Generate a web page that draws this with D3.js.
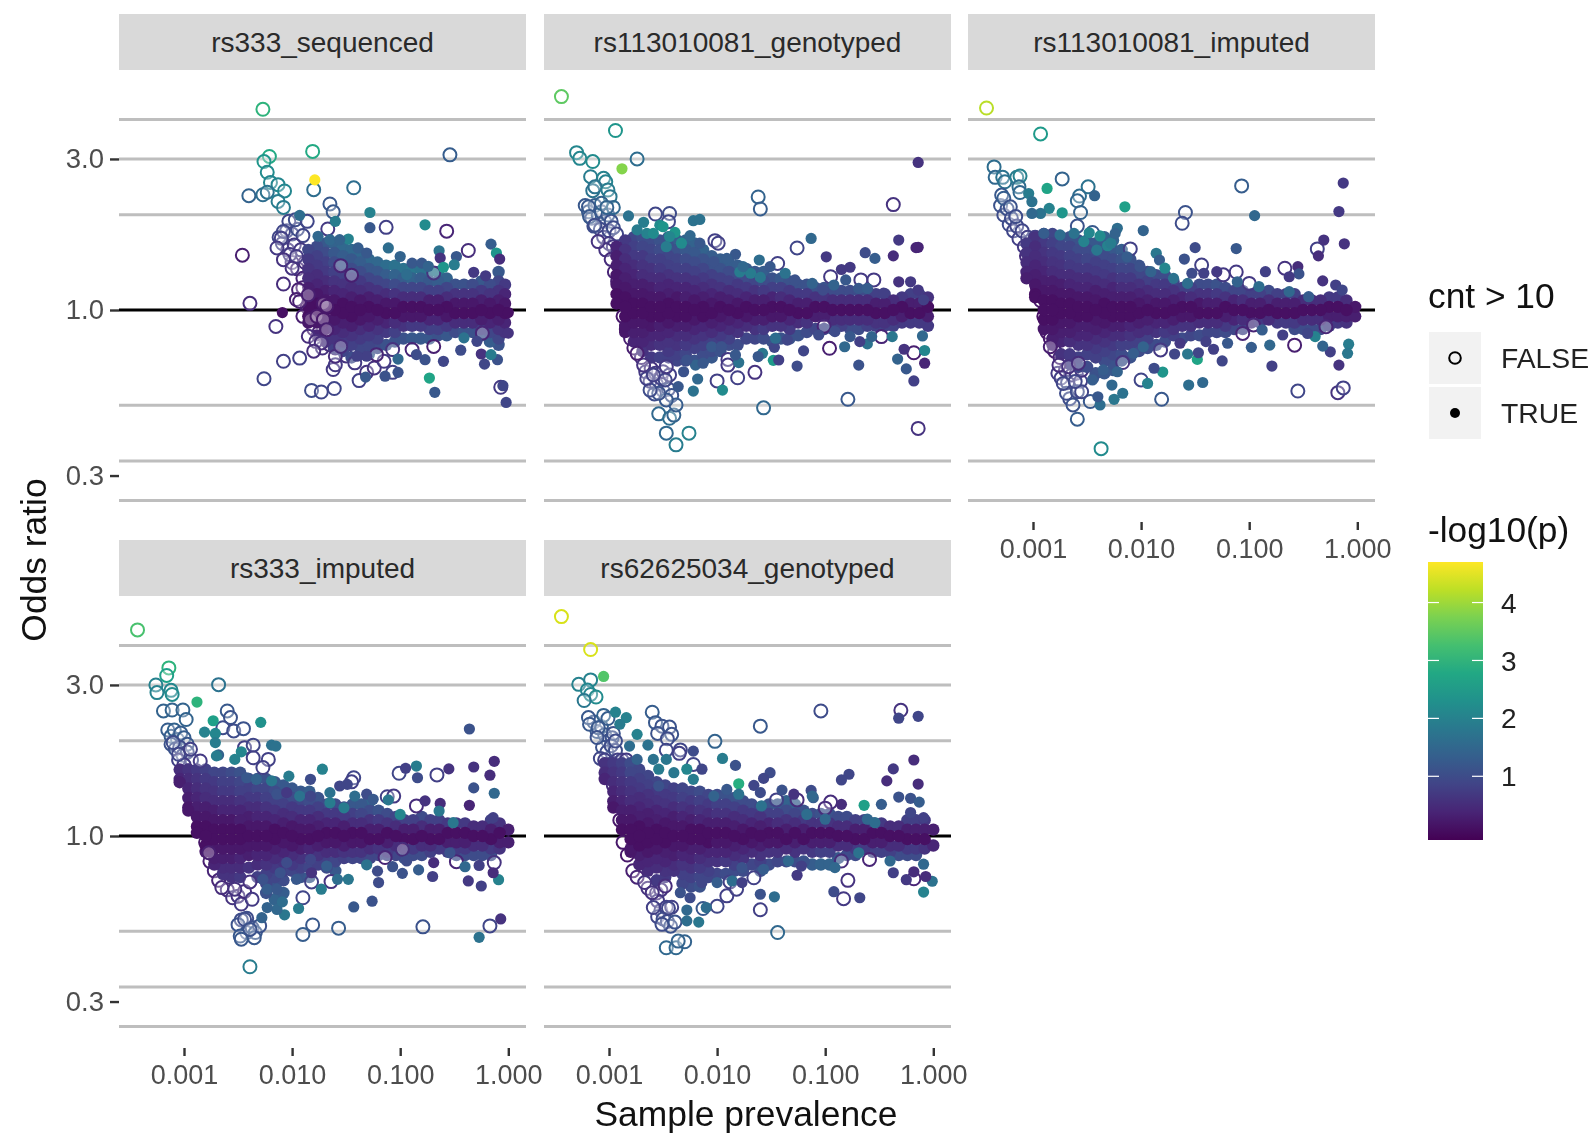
<!DOCTYPE html>
<html><head><meta charset="utf-8"><script src="https://cdn.jsdelivr.net/npm/d3@7"></script>
<style>html,body{margin:0;background:#fff}svg{display:block;font-family:"Liberation Sans",Arial,sans-serif;filter:blur(.45px)}</style></head><body>
<svg id="c" width="1594" height="1133"></svg>
<script>
const panelNames=["rs333_sequenced","rs113010081_genotyped","rs113010081_imputed","rs333_imputed","rs62625034_genotyped"];
const gridOR=[4,3,2,.5,1/3,.25];
const xTicks=[.001,.01,.1,1];
const yTicks=[3,1,.3];
// Values. Outlier rows: [log10(prevalence), log10(OR)*1000, -log10(p)*10]
// Core columns: [log10(prevalence)*100, then pairs log10(OR)*100, -log10(p)*10 ...]
const seqOpen=[[-2.27,634,30],[-2.21,485,28],[-2.26,469,24],[-1.81,501,28],[-.54,490,13],[-2.23,435,22],[-2.2,403,21],[-2.13,396,21],[-2.07,376,21],[-2.4,361,14],[-2.27,364,16],[-2.23,372,17],[-2.13,343,19],[-2.08,324,19],[-1.8,380,16],[-1.43,386,16],[-1.65,335,12],[-1.62,310,12],[-1.13,261,8],[-.57,249,4],[-.37,188,5],[-2.46,173,3],[-2.39,21,5],[-2.15,-52,6],[-2.08,-162,8],[-1.93,-152,8],[-2.26,-217,9],[-1.82,-254,10],[-1.73,-259,9],[-1.61,-248,9],[-1.38,-223,8],[-1.31,-197,6],[-1.24,-183,6],[-1.62,-188,7],[-1.6,-173,7],[-1.07,-197,8],[-.07,-244,7],[-.69,-115,3],[-.24,-73,4],[-.69,117,6],[-1.15,-162,7],[-.89,-125,4],
[-2.03,280,9],[-1.97,285,10],[-1.86,280,9],[-1.67,256,7],[-2.08,248,9],[-2.1,227,8],[-2.14,196,7],[-2.02,175,7],[-2.08,159,6],[-1.96,169,7],[-2,132,6],[-2.08,82,5],[-1.94,64,3],[-1.96,33,3],[-1.93,27,3],[-1.85,48,3],[-1.71,20,2],[-1.83,-30,2],[-1.77,-20,2],[-1.68,12,2],[-1.71,-30,2],[-1.85,-83,5],[-1.78,-99,5],[-1.68,-62,3],[-1.73,-104,5],[-1.8,-130,5],[-1.6,-146,5],[-1.55,-115,5],[-1.42,-167,7],[-1.22,-141,4],[-1.07,-125,6],[-1.55,140,4],[-1.45,110,3]];
const seqFilled=[[-1.79,411,47],[-1.28,308,20],[-1.28,260,12],[-.77,269,22],[-1.6,280,19],[-1.93,299,16],[-1.48,224,20],[-.64,187,17],[-1.11,196,16],[-.16,208,13],[-.11,180,24],[-.48,169,12],[-.63,164,6],[-.08,161,5],[-.6,135,24],[-.5,143,19],[-.32,119,7],[-.21,108,7],[-2.09,-8,1],[0,-8,1],[0,-73,6],[-.6,-162,9],[-.44,-127,10],[-.25,-139,6],[-.22,-171,9],[-.1,-157,11],[-.16,-141,19],[-.73,-215,27],[-.68,-260,12],[-.05,-239,9],[-.02,-292,9],[-1.02,-155,15],[-.77,-157,11],[-.85,-141,10],[-1.14,-209,11],[-1.02,-197,11],[-1.32,-212,12],[-1.76,233,15],[-1.65,222,15],[-1.56,222,14],[-1.39,196,13],[-1.31,180,12],[-1,169,14],[-.89,148,12],[-.8,148,12],[-.94,112,16],[-.74,138,14],[-.41,-88,17],[-.29,-99,9],[-1.31,-146,8],[-1.4,-146,8]];
const seqCore=[[-185,19,9,16,7,13,6,10,5,7,3,4,2,1,1,-2,1,-4,2],[-177,20,10,17,8,14,7,11,5,8,4,5,2,2,1,-1,1,-4,2,-8,4],[-169,21,12,18,10,15,8,12,7,9,5,6,3,3,2,0,1,-3,2,-6,3,-10,6],[-161,21,14,18,12,15,10,12,8,9,6,6,4,3,2,0,1,-3,2,-6,4,-9,6,-12,8],[-153,20,15,17,13,14,11,11,8,8,6,5,4,2,1,-1,1,-4,3,-7,5,-10,7,-13,9],[-145,19,15,16,12,13,10,10,8,7,5,4,3,1,1,-2,1,-5,3,-8,6,-11,8,-15,10],[-137,18,15,15,13,12,10,9,7,6,5,3,2,0,1,-3,2,-6,5,-9,7,-12,9,-14,10],[-129,16,15,13,12,10,9,7,6,4,3,1,1,-2,2,-5,4,-8,7,-11,9,-14,12],[-121,15,15,12,12,9,9,6,6,3,3,0,1,-3,3,-6,6,-9,8,-12,10],[-113,14,16,11,13,8,9,5,5,2,2,-1,1,-4,4,-7,7,-11,11],[-105,14,17,11,14,8,10,5,6,2,2,-1,1,-4,5,-7,8,-10,11],[-97,13,17,10,13,7,9,4,5,1,1,-2,2,-5,6,-9,11],[-89,13,18,10,14,7,9,4,5,1,1,-2,2,-5,7,-9,12],[-81,13,17,10,13,7,9,4,5,1,1,-2,2,-5,7,-9,12],[-73,12,17,9,12,6,8,3,3,0,1,-3,4,-6,8,-9,12],[-65,12,18,9,13,6,8,3,3,0,1,-3,4,-6,8,-8,11],[-57,10,14,7,9,4,5,1,1,-2,2,-5,7,-8,12],[-49,8,11,5,6,2,2,-1,1,-4,5,-7,10],[-41,8,11,5,6,2,2,-1,1,-4,5,-7,11],[-33,8,10,5,6,2,2,-1,1,-4,5,-7,11],[-25,9,12,6,7,3,3,0,1,-3,3,-6,8,-8,11],[-17,8,10,5,6,2,2,-1,1,-4,4,-7,9,-10,13],[-9,12,12,9,9,6,6,3,3,0,1,-3,3,-6,6,-9,9,-11,11],[-3,8,7,5,4,2,2,-1,1,-4,4,-7,6]];
const seqCluster=[[-2.12,230,9],[-2.09,210,8],[-2.05,250,9],[-2,240,9],[-1.95,255,10],[-1.9,235,9],[-2.04,190,7],[-1.98,205,7],[-1.92,190,7],[-2,150,6],[-1.95,130,5],[-1.9,100,4],[-1.88,150,5],[-1.83,120,4],[-1.9,70,3],[-1.86,10,2],[-1.9,-20,3],[-1.8,-60,3],[-1.75,-70,4],[-1.72,-120,6],[-1.65,-110,5],[-1.6,-120,6],[-1.5,-145,6]];

const g2Open=[[-3.44,674,35],[-2.94,567,24],[-3.3,497,21],[-3.27,479,21],[-3.15,469,22],[-2.74,477,16],[-3.17,421,19],[-3.05,416,20],[-3.03,405,20],[-3.15,377,17],[-3.13,389,17],[-3.01,379,19],[-2.99,358,18],[-3.07,337,14],[-2.96,324,15],[-3.19,326,12],[-3.02,324,14],[-3.18,295,12],[-3.13,268,10],[-3.1,216,6],[-2.57,303,9],[-2.44,305,10],[-2.45,279,9],[-1.62,357,14],[-1.6,319,13],[-.37,333,6],[-2.02,219,8],[-1.99,211,8],[-1.26,196,9],[-1.44,147,8],[-.95,105,7],[-.67,95,7],[-.55,95,7],[-1.01,-51,4],[-.48,-84,4],[-.96,-121,3],[-.18,-135,3],[-1.9,-156,7],[-1.9,-174,7],[-1.81,-214,8],[-1.65,-197,6],[-2,-224,8],[-1.57,-309,15],[-.79,-282,12],[-.14,-374,6],[-2.26,-389,20],[-2.38,-426,19],[-2.47,-389,15],[-2.54,-328,15],[-2.44,-342,16],[-2.4,-332,14],[-2.38,-300,13],[-2.47,-284,12],[-2.54,-263,11],[-2.62,-253,10],[-2.48,-221,9],[-2.65,-216,8],[-2.68,-174,6],[-2.59,-205,8],[-2.47,-179,7],[-2.74,-137,3]];
const g2Filled=[[-2.88,446,38],[-2.82,297,17],[-2.68,277,19],[-2.53,268,22],[-2.39,245,24],[-2.22,282,17],[-2.16,286,17],[-.14,466,6],[-1.13,226,15],[-.32,221,7],[-.16,197,4],[-.14,198,4],[-.99,168,7],[-.37,171,5],[-.63,181,10],[-.54,163,13],[-.85,128,7],[-.77,135,7],[-.81,95,12],[-.32,89,6],[-.21,89,7],[-1.61,158,16],[-1.79,120,19],[-1.69,116,19],[-1.6,103,18],[-1.83,176,12],[-2.03,153,11],[-.08,-128,21],[-.08,-168,4],[-.18,-224,8],[-.25,-186,12],[-.33,-155,14],[-.69,-174,11],[-.82,-116,15],[-1.26,-177,10],[-1.2,-129,9],[-1.48,-159,25],[-1.43,-158,8],[-1.58,-137,18],[-1.62,-147,12],[-1.47,-118,9],[-1.95,-253,22],[-2.22,-256,17],[-2.18,-218,15],[-2.36,-242,12],[-2.31,-195,11],[-1.8,-166,17],[-1.83,-142,12],[-.27,-124,6],[-.61,-107,17],[-.38,-84,18],[-.1,-82,15],[-1.91,163,13],[-1.76,137,15],[-1.51,137,12],[-1.37,116,17],[-1.28,95,11],[-1.12,84,14],[-1.02,63,10],[-.92,79,14],[-.69,68,12],[-.61,68,13],[-.46,53,8],[-.14,63,7],[-.09,32,8],[-1.46,-89,16],[-1.35,-95,9],[-1.06,-79,10],[-.91,-68,10],[-.77,-84,12],[-.68,-100,8],[-.57,-84,14],[-2.74,253,19],[-2.65,242,20],[-2.59,242,22],[-2.5,263,24],[-2.44,232,21],[-2.33,211,22],[-2.25,235,15],[-2.16,211,12],[-2.47,200,19],[-2.2,-174,14],[-2.13,-168,12],[-2.28,-158,11],[-2.05,-116,12],[-1.96,-116,11]];
const g2Cluster=[[-3.22,330,12],[-3.19,310,12],[-3.16,290,11],[-3.13,330,13],[-3.1,300,12],[-3.07,310,12],[-3.04,280,11],[-3.01,300,12],[-2.98,280,11],[-3.14,265,10],[-3.08,255,10],[-3.05,230,8],[-3,250,9],[-2.96,260,10],[-2.93,240,9],[-3,210,7],[-2.96,200,7],[-2.93,180,6],[-3.03,190,6],[-2.98,160,5],[-2.95,120,4],[-2.92,90,3],[-2.87,-20,2],[-2.84,-60,2],[-2.8,-90,3],[-2.77,-120,3],[-2.7,-150,5],[-2.66,-195,7],[-2.61,-185,6],[-2.62,-225,8],[-2.57,-200,7],[-2.56,-235,8],[-2.52,-215,8],[-2.5,-255,10],[-2.45,-250,10],[-2.42,-270,11],[-2.58,-265,10],[-2.5,-195,7],[-2.44,-205,8]];
const g2Core=[[-293,20,4,17,3,14,3,11,2,8,2,5,1,2,1],[-285,22,7,19,6,16,5,13,4,10,3,7,2,4,1,1,1,-2,1,-5,2,-7,2],[-277,23,9,20,8,17,7,14,5,11,4,8,3,5,2,2,1,-1,1,-4,2,-7,3,-10,4],[-269,23,10,20,9,17,7,14,6,11,5,8,3,5,2,2,1,-1,1,-4,2,-7,3,-10,4,-13,6],[-261,22,10,19,9,16,8,13,6,10,5,7,3,4,2,1,1,-2,1,-5,2,-8,4,-11,5,-15,7],[-253,22,11,19,10,16,8,13,7,10,5,7,4,4,2,1,1,-2,1,-5,3,-8,4,-11,6,-15,8],[-245,23,13,20,11,17,9,14,8,11,6,8,4,5,3,2,1,-1,1,-4,2,-7,4,-10,6,-13,7,-15,8],[-237,22,13,19,11,16,9,13,8,10,6,7,4,4,2,1,1,-2,1,-5,3,-8,5,-11,6,-14,8,-16,9],[-229,22,14,19,12,16,10,13,8,10,6,7,4,4,3,1,1,-2,1,-5,3,-8,5,-11,7,-14,9,-16,10],[-221,21,14,18,12,15,10,12,8,9,6,6,4,3,2,0,1,-3,2,-6,4,-9,6,-12,8,-16,11],[-213,19,14,16,11,13,9,10,7,7,5,4,3,1,1,-2,1,-5,4,-8,6,-11,8,-14,10,-16,11],[-205,17,13,14,11,11,8,8,6,5,4,2,2,-1,1,-4,3,-7,5,-10,8,-13,10,-15,12],[-197,16,13,13,11,10,8,7,6,4,3,1,1,-2,2,-5,4,-8,7,-11,9,-13,11],[-189,15,13,12,10,9,8,6,5,3,3,0,1,-3,3,-6,5,-9,8,-11,10],[-181,14,13,11,10,8,7,5,5,2,2,-1,1,-4,4,-7,6,-11,10],[-173,13,13,10,10,7,7,4,4,1,1,-2,2,-5,5,-9,9],[-165,12,12,9,9,6,6,3,3,0,1,-3,3,-6,6,-9,9],[-157,12,13,9,10,6,7,3,3,0,1,-3,3,-6,7,-9,10],[-149,10,11,7,8,4,4,1,1,-2,2,-5,6,-10,11],[-141,10,12,7,8,4,5,1,1,-2,2,-5,6,-9,11],[-133,9,11,6,7,3,4,0,1,-3,4,-6,7,-9,11],[-125,8,11,5,7,2,3,-1,1,-4,5,-8,11],[-117,8,11,5,7,2,3,-1,1,-4,6,-7,10],[-109,7,11,4,6,1,1,-2,3,-6,9],[-101,7,11,4,6,1,1,-2,3,-6,9],[-93,6,10,3,5,0,1,-3,5,-6,10],[-85,6,10,3,5,0,1,-3,5,-5,8],[-77,6,10,3,5,0,1,-3,5,-6,10],[-69,6,10,3,5,0,1,-3,5,-6,10],[-61,6,10,3,5,0,1,-3,5,-5,8],[-53,5,8,2,3,-1,1,-4,6,-5,8],[-45,5,8,2,3,-1,1,-4,6,-5,8],[-37,3,5,0,1,-3,5,-5,8],[-29,4,7,1,1,-2,3,-4,7],[-21,5,8,2,3,-1,1,-4,7],[-13,5,8,2,3,-1,1,-4,7],[-5,4,6,1,1,-2,3,-5,7]];

const g3Open=[[-3.43,638,42],[-2.93,556,25],[-3.36,452,16],[-3.35,419,15],[-3.28,419,17],[-3.26,405,17],[-3.15,419,19],[-3.12,423,20],[-2.73,414,14],[-3.13,389,16],[-3.12,371,15],[-3.29,363,12],[-3.27,353,13],[-2.49,389,17],[-2.57,360,16],[-2.59,345,15],[-2.56,308,14],[-2.59,265,11],[-3.21,326,11],[-3.16,295,10],[-2.45,245,12],[-2.1,193,8],[-1.07,392,13],[-1.59,308,11],[-1.62,274,10],[-1.44,142,8],[-1.24,111,7],[-1.12,120,7],[-1,84,7],[-.67,132,6],[-.37,193,8],[-.96,-47,4],[-1.06,-74,4],[-.29,-53,4],[-.58,-111,3],[-1.82,-126,7],[-2.17,-166,6],[-2,-221,9],[-1.81,-282,12],[-.55,-256,9],[-.18,-261,6],[-.13,-246,8],[-2.37,-438,22],[-2.59,-345,13],[-2.63,-300,11],[-2.47,-289,12],[-2.69,-263,10],[-2.59,-258,10],[-2.55,-258,9],[-2.72,-232,9],[-2.61,-226,9],[-2.76,-174,5],[-2.67,-179,6],[-2.58,-168,5],[-2.84,-116,3]];
const g3Filled=[[-2.87,384,27],[-3.04,368,19],[-3.01,342,17],[-2.85,321,20],[-2.73,307,24],[-2.43,361,14],[-2.15,326,26],[-2.22,258,16],[-1.98,251,14],[-2.48,244,21],[-2.38,234,22],[-2.31,203,20],[-1.5,197,10],[-1.12,194,12],[-.95,298,15],[-.13,401,7],[-.17,311,7],[-.12,209,6],[-.31,221,6],[-.36,171,5],[-1.6,161,11],[-1.86,179,18],[-1.83,158,13],[-1.78,132,21],[-.85,121,8],[-.55,137,5],[-.32,92,6],[-.54,114,11],[-.63,105,7],[-.2,79,8],[-.08,-108,19],[-.09,-137,18],[-.17,-174,6],[-.25,-132,8],[-.32,-114,14],[-.39,-84,20],[-.79,-177,8],[-.81,-111,15],[-.98,-118,13],[-1.25,-161,9],[-1.33,-124,8],[-1.48,-156,27],[-1.57,-139,18],[-1.47,-135,9],[-1.69,-139,9],[-1.43,-229,15],[-1.56,-237,16],[-1.8,-196,24],[-1.88,-184,10],[-1.94,-232,20],[-2.17,-263,17],[-2.25,-282,18],[-2.27,-237,15],[-2.38,-300,16],[-2.4,-274,12],[-2.44,-216,11],[-2.93,305,17],[-3.01,305,15],[-2.9,242,13],[-2.75,237,16],[-2.62,242,17],[-2.53,216,20],[-2.41,189,18],[-2.28,211,19],[-2.24,242,14],[-2.13,168,13],[-2.01,137,11],[-1.91,121,14],[-1.7,100,17],[-1.57,84,16],[-1.53,116,10],[-1.42,116,8],[-1.3,121,7],[-1.11,89,14],[-.91,74,16],[-.63,58,15],[-.45,42,13],[-.14,63,9],[-.46,-74,9],[-.69,-79,8],[-.88,-63,13],[-1.2,-105,12],[-1.4,-100,8],[-1.64,-105,7],[-1.98,-116,14],[-2.07,-137,13],[-2.22,-195,14],[-2.35,-189,13],[-2.45,-221,13]];
const g3Cluster=[[-3.3,330,11],[-3.27,300,10],[-3.24,320,11],[-3.22,270,10],[-3.2,290,10],[-3.18,250,9],[-3.15,265,9],[-3.13,225,8],[-3.1,250,9],[-3.08,200,7],[-3.05,230,8],[-3.02,190,6],[-3.06,170,5],[-2.98,230,8],[-2.95,220,8],[-2.95,150,4],[-3,120,3],[-2.96,70,2],[-2.93,30,2],[-2.9,-20,1],[-2.87,-70,2],[-2.84,-90,2],[-2.8,-130,3],[-2.75,-150,4],[-2.77,-200,7],[-2.74,-215,8],[-2.7,-190,6],[-2.68,-230,9],[-2.64,-205,7],[-2.6,-200,7],[-2.56,-225,8],[-2.66,-280,10],[-2.55,-190,6]];
const g3Core=[[-306,21,7,18,6,15,5,12,4,10,3],[-298,23,6,20,5,17,5,14,4,11,3,8,2,5,1,4,1],[-290,24,8,21,7,18,6,15,5,12,4,9,3,6,2,3,1,0,1,-3,1,-6,2],[-282,24,9,21,8,18,7,15,6,12,5,9,3,6,2,3,1,0,1,-3,1,-6,2,-9,3,-11,4],[-274,23,10,20,9,17,7,14,6,11,5,8,3,5,2,2,1,-1,1,-4,2,-7,3,-10,4,-14,6],[-266,23,11,20,9,17,8,14,7,11,5,8,4,5,2,2,1,-1,1,-4,2,-7,3,-10,5,-14,7,-17,8],[-258,22,11,19,10,16,8,13,7,10,5,7,4,4,2,1,1,-2,1,-5,3,-8,4,-11,6,-15,8,-18,9],[-250,22,12,19,10,16,9,13,7,10,5,7,4,4,2,1,1,-2,1,-5,3,-8,4,-11,6,-14,8,-18,10],[-242,21,12,18,10,15,8,12,7,9,5,6,3,3,2,0,1,-3,2,-6,3,-9,5,-12,7,-15,8,-20,11],[-234,23,14,20,12,17,10,14,8,11,7,8,5,5,3,2,1,-1,1,-4,2,-7,4,-10,6,-13,8,-16,10,-20,12],[-226,22,14,19,12,16,10,13,8,10,6,7,4,4,3,1,1,-2,1,-5,3,-8,5,-11,7,-14,9,-17,11,-19,12],[-218,19,13,16,11,13,9,10,7,7,5,4,3,1,1,-2,1,-5,3,-8,5,-11,8,-14,10,-16,11],[-210,16,11,13,9,10,7,7,5,4,3,1,1,-2,1,-5,4,-8,6,-11,8,-15,11],[-202,14,11,11,9,8,6,5,4,2,2,-1,1,-4,3,-7,5,-10,8,-13,10],[-194,12,10,9,8,6,5,3,3,0,1,-3,3,-6,5,-9,8,-12,10],[-186,11,10,8,7,5,5,2,2,-1,1,-4,4,-7,6,-11,10],[-178,11,10,8,7,5,5,2,2,-1,1,-4,4,-7,7,-10,10],[-170,9,9,6,6,3,3,0,1,-3,3,-6,6,-8,8],[-162,7,8,4,4,1,1,-2,2,-5,6,-9,10],[-154,7,8,4,5,1,1,-2,2,-5,6,-8,9],[-146,8,10,5,6,2,2,-1,1,-4,5,-8,10],[-138,8,10,5,6,2,3,-1,1,-4,5,-7,9],[-130,8,11,5,7,2,3,-1,1,-4,5,-7,9],[-122,7,10,4,6,1,1,-2,3,-5,7,-7,10],[-114,6,9,3,4,0,1,-3,4,-6,9],[-106,6,9,3,5,0,1,-3,5,-6,9],[-98,5,8,2,3,-1,1,-4,6],[-90,5,8,2,3,-1,1,-4,7],[-82,6,10,3,5,0,1,-3,5],[-74,5,8,2,3,-1,1,-4,7],[-66,5,8,2,3,-1,1,-4,7],[-58,5,8,2,3,-1,1,-4,7,-6,10],[-50,3,5,0,1,-3,5,-6,10],[-42,3,5,0,1,-3,5,-6,10],[-34,3,5,0,1,-3,5,-6,10],[-26,4,7,1,1,-2,3,-5,8],[-18,4,7,1,1,-2,3,-4,7],[-10,3,5,0,1,-2,3,-4,6],[-2,1,2,-2,3]];

const i4Open=[[-3.43,651,33],[-3.14,531,30],[-3.16,507,26],[-3.26,477,20],[-3.25,453,20],[-3.12,460,21],[-3.11,447,22],[-2.68,478,17],[-3.19,395,14],[-3.11,398,14],[-3.01,398,14],[-2.98,368,14],[-2.6,395,12],[-2.57,374,11],[-2.64,342,10],[-2.54,332,10],[-2.45,339,11],[-3.1,295,10],[-3.05,258,9],[-2.94,274,8],[-2.85,237,7],[-2.44,279,8],[-2.36,287,9],[-2.36,247,8],[-2.22,242,8],[-2.27,216,8],[-1.43,184,9],[-1.45,171,8],[-1.01,198,9],[-.66,193,8],[-1.12,124,8],[-1.06,126,7],[-.85,95,5],[-.98,-42,5],[-.48,-81,4],[-.13,-84,6],[-1.14,-68,4],[-2.77,-53,3],[-2.65,-163,5],[-2.39,-145,6],[-2.37,-200,7],[-2.53,-168,6],[-1.82,-145,8],[-1.64,-144,6],[-1.9,-195,9],[-1.81,-281,12],[-1.9,-311,13],[-1.57,-291,13],[-.79,-287,11],[-.17,-284,9],[-2.48,-316,12],[-2.47,-326,12],[-2.35,-321,12],[-2.3,-284,11],[-2.44,-263,10],[-2.39,-295,11],[-2.39,-413,19]];
const i4Filled=[[-2.88,423,30],[-2.73,364,26],[-2.29,359,23],[-2.81,328,20],[-2.71,324,21],[-2.71,295,19],[-2.19,287,17],[-2.15,284,17],[-2.68,256,14],[-2.47,266,21],[-2.53,242,20],[-1.72,211,20],[-.36,338,11],[-.85,221,19],[-.95,214,8],[-.84,184,10],[-.55,212,6],[-.32,218,6],[-.13,236,5],[-.17,192,5],[-.13,135,15],[-.32,152,11],[-.36,97,4],[-.77,111,6],[-.63,103,5],[-1.11,114,18],[-1.42,126,16],[-1.83,179,10],[-2.03,189,19],[-1.65,137,17],[-.09,-138,20],[-.14,-116,5],[-.25,-158,8],[-.37,-142,7],[-.27,-93,8],[-.4,-97,15],[-.7,-128,8],[-.69,-84,5],[-.83,-107,13],[-.98,-118,11],[-1.07,-97,11],[-1.31,-91,17],[-1.21,-111,10],[-1.2,-147,10],[-1.26,-206,11],[-1.43,-224,12],[-1.48,-137,18],[-1.58,-137,16],[-1.73,-168,19],[-1.94,-229,19],[-2.07,-249,18],[-2.14,-232,15],[-2.23,-226,14],[-2.09,-208,16],[-2.28,-258,14],[-.07,-262,6],[-.27,-320,17],[-2.7,253,19],[-2.42,184,12],[-2.33,179,14],[-2.19,174,18],[-2.14,132,11],[-2.05,137,7],[-1.93,126,17],[-1.83,126,9],[-1.65,105,19],[-1.52,89,19],[-1.56,158,9],[-1.49,163,9],[-1.31,132,10],[-1.25,116,12],[-1,68,21],[-.64,79,18],[-.51,42,18],[-.14,58,8],[-1.96,-137,12],[-1.82,-116,6],[-1.83,-74,9],[-1.68,-95,13],[-2.23,-168,13],[-2.14,-168,12],[-2.27,-137,11],[-2.11,-116,11],[-2.05,-84,10],[-.54,-53,11],[-.94,-79,10]];
const i4Cluster=[[-3.15,335,13],[-3.12,315,13],[-3.09,335,14],[-3.06,305,13],[-3.03,325,13],[-3,310,13],[-2.97,290,12],[-3.12,290,11],[-3.08,275,11],[-3.04,280,10],[-3.01,255,10],[-2.97,265,10],[-2.93,240,9],[-3.05,240,8],[-3,225,7],[-2.96,205,6],[-2.93,170,5],[-2.9,130,4],[-2.88,80,3],[-2.84,30,2],[-2.8,-20,2],[-2.76,-80,3],[-2.72,-110,4],[-2.68,-140,4],[-2.6,-170,5],[-2.55,-195,6],[-2.5,-190,6],[-2.47,-215,7],[-2.44,-175,5],[-2.42,-260,10],[-2.47,-265,10],[-2.5,-280,11],[-2.42,-305,11],[-2.37,-290,11],[-2.34,-305,12]];
const i4Core=[[-304,21,5,18,4,17,3],[-296,21,6,18,5,15,4,12,3,9,2,8,2],[-288,21,7,18,6,15,5,12,4,9,3,6,2,3,1,1,1],[-280,21,8,18,7,15,6,12,5,9,3,6,2,3,1,0,1,-3,1,-5,2],[-272,20,9,17,7,14,6,11,5,8,3,5,2,2,1,-1,1,-4,2,-7,3,-9,4],[-264,20,9,17,8,14,7,11,5,8,4,5,2,2,1,-1,1,-4,2,-7,3,-10,5,-12,6],[-256,20,10,17,8,14,7,11,5,8,4,5,2,2,1,-1,1,-4,2,-7,3,-10,5,-13,6],[-248,20,11,17,9,14,8,11,6,8,4,5,3,2,1,-1,1,-4,2,-7,4,-10,5,-13,7],[-240,18,10,15,8,12,7,9,5,6,3,3,2,0,1,-3,2,-6,3,-10,6],[-232,18,11,15,9,12,7,9,5,6,4,3,2,0,1,-3,2,-6,4,-9,5,-13,8],[-224,18,11,15,9,12,8,9,6,6,4,3,2,0,1,-3,2,-6,4,-9,6,-12,8,-15,9,-18,11],[-216,17,12,14,10,11,8,8,6,5,4,2,1,-1,1,-4,3,-7,5,-10,7,-13,9,-16,11,-20,14],[-208,16,12,13,10,10,8,7,5,4,3,1,1,-2,2,-5,4,-8,6,-11,8,-14,10,-18,13],[-200,15,12,12,10,9,7,6,5,3,2,0,1,-3,2,-6,5,-9,7,-11,9],[-192,14,12,11,9,8,7,5,4,2,2,-1,1,-4,3,-7,6,-10,8,-13,11],[-184,14,13,11,10,8,7,5,4,2,2,-1,1,-4,4,-7,6,-10,9,-13,12],[-176,12,11,9,8,6,5,3,3,0,1,-3,3,-6,6,-9,8],[-168,10,10,7,7,4,4,1,1,-2,2,-5,5,-8,8,-10,10],[-160,10,10,7,7,4,4,1,1,-2,2,-5,5,-8,9,-11,12],[-152,9,10,6,7,3,3,0,1,-3,3,-5,6,-7,8],[-144,10,12,7,8,4,5,1,1,-2,2,-5,6,-7,9],[-136,10,12,7,9,4,5,1,1,-2,2,-5,6,-7,9],[-128,11,14,8,10,5,6,2,3,-1,1,-4,5,-7,9],[-120,8,11,5,7,2,3,-1,1,-4,6,-6,9],[-112,7,10,4,6,1,1,-2,3,-5,7,-6,9],[-104,6,9,3,5,0,1,-3,5,-6,9],[-96,5,8,2,3,-1,1,-4,6,-7,11],[-88,5,8,2,3,-1,1,-4,7,-6,10],[-80,6,10,3,5,0,1,-3,5,-6,10],[-72,5,8,2,3,-1,1,-3,5,-5,8],[-64,5,8,2,3,-1,1,-4,7],[-56,4,7,1,1,-2,3,-5,8],[-48,4,7,1,1,-2,3,-4,7,-6,10],[-40,4,7,1,1,-2,3,-4,7,-6,10],[-32,3,5,0,1,-3,5,-6,10],[-24,3,5,0,1,-3,5,-6,10],[-16,5,8,2,3,-1,1,-4,7,-6,10],[-8,4,6,1,1,-2,3,-4,6],[0,2,3,-2,3]];

const g5Open=[[-3.44,693,44],[-3.17,589,44],[-3.28,479,20],[-3.17,493,20],[-3.2,461,21],[-3.17,447,21],[-3.12,439,22],[-3.23,428,18],[-3.19,374,12],[-3.05,381,14],[-3.01,371,13],[-3.18,353,12],[-3.1,342,12],[-2.96,324,11],[-3.11,311,11],[-2.94,300,10],[-2.6,391,13],[-2.57,358,12],[-2.51,347,11],[-2.44,344,11],[-2.55,324,11],[-2.42,321,11],[-2.46,307,10],[-2.47,271,9],[-2.34,272,9],[-2.35,261,8],[-2.22,226,9],[-2.02,299,14],[-1.6,347,12],[-1.04,395,10],[-.3,397,6],[-1.45,114,8],[-1.26,114,5],[-.95,107,5],[-1,88,5],[-.85,-79,5],[-.59,-74,4],[-1.66,-132,8],[-.79,-140,6],[-.83,-198,7],[-.18,-135,4],[-1.6,-233,8],[-1.44,-305,15],[-1.88,-145,8],[-1.91,-189,8],[-1.82,-168,8],[-2,-222,9],[-2.13,-229,12],[-2.67,-147,6],[-2.48,-158,5],[-2.6,-179,6],[-2.45,-228,9],[-2.59,-226,8],[-2.51,-279,10],[-2.39,-272,11],[-2.47,-353,15],[-2.38,-353,15],[-2.3,-334,14],[-2.36,-332,14]];
const g5Filled=[[-3.05,504,34],[-2.94,391,20],[-2.84,374,20],[-2.9,353,19],[-2.74,321,20],[-2.64,287,17],[-2.81,284,16],[-1.95,245,19],[-1.83,223,11],[-1.8,165,29],[-1.51,200,10],[-1.57,182,9],[-.14,378,9],[-.32,372,9],[-.18,240,5],[-.37,212,7],[-.43,174,5],[-.14,164,5],[-.78,195,9],[-.85,177,9],[-1.13,144,10],[-1.11,121,13],[-1.4,145,11],[-1.66,160,9],[-.64,97,26],[-.48,100,13],[-.32,123,11],[-.21,119,11],[-.13,107,13],[-.21,74,9],[-.85,100,5],[-.09,-177,20],[-.01,-143,17],[-.07,-128,5],[-.18,-113,5],[-.25,-138,7],[-.37,-116,8],[-.68,-195,9],[-.92,-176,10],[-1.26,-124,7],[-1.47,-192,16],[-1.6,-184,11],[-2.28,-234,15],[-2.28,-268,16],[-2.17,-272,18],[-2.1,-226,16],[-.09,-89,15],[-2.74,242,14],[-2.59,242,17],[-2.54,211,19],[-2.47,242,18],[-2.4,200,18],[-2.28,211,21],[-2.22,268,10],[-2.14,211,9],[-2.22,179,19],[-2.54,158,11],[-2.03,126,14],[-1.91,147,12],[-1.8,132,17],[-1.6,137,10],[-1.59,95,17],[-1.29,132,6],[-1.12,126,15],[-1.17,68,16],[-1,53,15],[-.61,53,15],[-.54,42,16],[-.09,58,8],[-2.34,-179,11],[-2.25,-195,10],[-2.14,-147,9],[-2,-147,13],[-1.86,-142,16],[-1.77,-147,8],[-1.77,-100,11],[-1.57,-105,13],[-1.34,-79,15],[-1.22,-95,8],[-.91,-100,15],[-.69,-53,17],[-.4,-79,15]];
const g5Cluster=[[-3.14,360,12],[-3.11,330,12],[-3.07,345,13],[-3.04,320,12],[-3.01,300,11],[-2.97,310,11],[-3.06,280,11],[-3.02,265,10],[-2.98,285,10],[-2.94,270,10],[-3.08,245,9],[-3.04,240,8],[-3,225,8],[-2.96,230,8],[-2.92,240,8],[-2.88,240,8],[-2.84,240,7],[-3,190,6],[-2.96,160,5],[-2.94,100,3],[-2.9,50,2],[-2.87,-20,2],[-2.83,-60,2],[-2.78,-110,3],[-2.74,-130,4],[-2.64,-165,6],[-2.56,-180,6],[-2.52,-170,6],[-2.55,-205,7],[-2.52,-235,8],[-2.47,-225,8],[-2.42,-225,8],[-2.55,-255,9],[-2.5,-262,10],[-2.46,-270,10],[-2.43,-285,11]];
const g5Core=[[-304,23,6,20,5,18,4],[-296,23,7,20,6,17,5,14,4,11,3,9,2],[-288,23,8,20,7,17,6,14,5,11,4,8,3,5,2,2,1],[-280,23,10,20,9,17,7,14,6,11,5,8,3,5,2,2,1,-1,1,-4,2,-5,2],[-272,21,9,18,8,15,7,12,5,9,4,6,3,3,1,0,1,-3,1,-6,3,-9,4],[-264,19,9,16,8,13,6,10,5,7,3,4,2,1,1,-2,1,-5,2,-8,4,-11,5],[-256,17,9,14,7,11,6,8,4,5,3,2,1,-1,1,-4,2,-7,4,-10,5,-14,7],[-248,16,9,13,7,10,6,7,4,4,2,1,1,-2,1,-5,3,-8,4,-11,6,-13,7],[-240,15,8,12,7,9,5,6,3,3,2,0,1,-3,2,-6,3,-9,5,-11,6],[-232,15,9,12,8,9,6,6,4,3,2,0,1,-3,2,-6,4,-9,6,-12,8,-15,9],[-224,14,9,11,7,8,5,5,3,2,1,-1,1,-4,3,-7,4,-10,6,-13,8,-16,10],[-216,14,10,11,8,8,6,5,4,2,1,-1,1,-4,3,-7,5,-10,7,-13,9,-16,11],[-208,13,9,10,7,7,5,4,3,1,1,-2,1,-5,4,-8,6,-11,8,-13,9],[-200,13,10,10,8,7,6,4,3,1,1,-2,2,-5,4,-8,6,-12,9],[-192,13,11,10,8,7,6,4,3,1,1,-2,2,-5,4,-8,7,-12,10],[-184,12,11,9,8,6,5,3,3,0,1,-3,3,-6,5,-9,8,-11,10],[-176,11,10,8,7,5,5,2,2,-1,1,-4,4,-7,6,-11,10],[-168,10,10,7,7,4,4,1,1,-2,2,-5,5,-9,9],[-160,9,9,6,6,3,3,0,1,-3,3,-6,6,-8,8,-11,11],[-152,10,11,7,8,4,4,1,1,-2,2,-5,6,-9,10],[-144,10,12,7,8,4,5,1,1,-2,2,-5,6,-8,9],[-136,11,14,8,10,5,6,2,3,-1,1,-4,5,-8,10],[-128,10,13,7,9,4,5,1,1,-2,3,-5,6,-8,10],[-120,8,11,5,7,2,3,-1,1,-4,6,-8,11],[-112,7,10,4,6,1,1,-2,3,-5,7,-9,13],[-104,7,11,4,6,1,1,-2,3,-5,8,-9,14],[-96,7,11,4,6,1,1,-2,3,-5,8,-9,14],[-88,6,10,3,5,0,1,-3,5,-7,12],[-80,6,10,3,5,0,1,-3,5,-6,10],[-72,5,8,2,3,-1,1,-4,7,-6,10],[-64,5,8,2,3,-1,1,-4,7],[-56,4,7,1,1,-2,3,-5,8],[-48,4,7,1,1,-2,3,-5,8],[-40,3,5,0,1,-3,5,-5,8],[-32,3,5,0,1,-3,5,-6,10],[-24,5,8,2,3,-1,1,-4,7,-6,10],[-16,5,8,2,3,-1,1,-4,7,-6,10],[-8,5,7,2,3,-1,1,-4,6],[0,2,3,-3,4]];

const panelOpen=[seqOpen,g2Open,g3Open,i4Open,g5Open];
const panelFilled=[seqFilled,g2Filled,g3Filled,i4Filled,g5Filled];
const panelCore=[seqCore,g2Core,g3Core,i4Core,g5Core];
const panelCluster=[seqCluster,g2Cluster,g3Cluster,i4Cluster,g5Cluster];

const panelLeft=[119,544,968,119,544],panelRow=[0,0,0,1,1];
const svg=d3.select("#c");
const W=407,rowTop=[70,596],H=452;
const xs=d3.scaleLog().domain([10**(-3-65/108.1),10**(-3+(407-65)/108.1)]).range([0,W]);
const ys=d3.scaleLog().domain([10**((310-522)/316.6),10**((310-70)/316.6)]).range([H,0]);
const col=d3.scaleSequential(d3.interpolateViridis).domain([-.1,4.7]);
const outRow=r=>({x:10**r[0],y:10**(r[1]/1000),p:r[2]/10});
const rings=(g,rows)=>g.append("g").selectAll("circle").data(rows.map(outRow)).join("circle").attr("cx",d=>xs(d.x)).attr("cy",d=>ys(d.y)).attr("r",6.5).attr("fill","#fff").attr("fill-opacity",.3).attr("stroke",d=>col(d.p)).attr("stroke-width",2);
panelNames.forEach((n,i)=>{
 const g=svg.append("g").attr("transform",`translate(${panelLeft[i]},${rowTop[panelRow[i]]})`);
 g.append("rect").attr("y",-56).attr("width",W).attr("height",56).attr("fill","#d9d9d9");
 g.append("text").attr("x",W/2).attr("y",-28).attr("dy",".36em").attr("text-anchor","middle").attr("font-size",28).attr("fill","#2a2a2a").text(n);
 g.selectAll(".g").data(gridOR).join("line").attr("x2",W).attr("y1",ys).attr("y2",ys).attr("stroke","#bebebe").attr("stroke-width",3);
 g.append("line").attr("x2",W).attr("y1",ys(1)).attr("y2",ys(1)).attr("stroke","#000").attr("stroke-width",3);
 if(i==0||i==3){const a=d3.axisLeft(ys).tickValues(yTicks).tickFormat(d3.format(".1f")).tickSize(9).tickPadding(6);
  const ag=g.append("g").call(a);ag.select(".domain").remove();ag.selectAll("text").attr("font-size",27.5).attr("fill","#4d4d4d");ag.selectAll("line").attr("stroke","#333").attr("stroke-width",2.4);}
 if(i>=2){const a=d3.axisBottom(xs).tickValues(xTicks).tickFormat(d3.format(".3f")).tickSize(8).tickPadding(9);
  const ag=g.append("g").attr("transform",`translate(0,${H})`).call(a);ag.select(".domain").remove();ag.selectAll("text").attr("font-size",27).attr("fill","#4d4d4d");ag.selectAll("line").attr("stroke","#333").attr("stroke-width",2.4);}
 rings(g,panelCluster[i]);
 const core=[];
 panelCore[i].forEach(c=>{for(let k=1;k<c.length;k+=2)core.push({x:10**(c[0]/100),y:10**(c[k]/100),p:c[k+1]/10});});
 core.sort((a,b)=>d3.descending(Math.abs(Math.log(a.y)),Math.abs(Math.log(b.y))));
 g.append("g").selectAll("circle").data(core).join("circle").attr("cx",d=>xs(d.x)).attr("cy",d=>ys(d.y)).attr("r",6.2).attr("fill",d=>col(d.p));
 rings(g,panelOpen[i]);
 g.append("g").selectAll("circle").data(panelFilled[i].map(outRow)).join("circle").attr("cx",d=>xs(d.x)).attr("cy",d=>ys(d.y)).attr("r",5.6).attr("fill",d=>col(d.p));
});
svg.append("text").attr("x",746).attr("y",1126).attr("text-anchor","middle").attr("font-size",35.4).attr("fill","#111").text("Sample prevalence");
svg.append("text").attr("transform","translate(46,560) rotate(-90)").attr("text-anchor","middle").attr("font-size",35.4).attr("fill","#111").text("Odds ratio");
svg.append("text").attr("x",1428).attr("y",308).attr("font-size",35.3).attr("fill","#111").text("cnt > 10");
svg.append("text").attr("x",1428).attr("y",542).attr("font-size",35.3).attr("fill","#111").text("-log10(p)");
[[332,"FALSE"],[387,"TRUE"]].forEach(([y,t],i)=>{svg.append("rect").attr("x",1429).attr("y",y).attr("width",52).attr("height",52).attr("fill","#f2f2f2");
 svg.append("text").attr("x",1501).attr("y",y+26).attr("dy",".36em").attr("font-size",28.3).attr("fill","#222").text(t);
 svg.append("circle").attr("cx",1455).attr("cy",y+26).attr("r",i?5:5.8).attr("fill",i?"#000":"none").attr("stroke",i?"none":"#000").attr("stroke-width",2);});
const cb=d3.scaleLinear().domain([-.1,4.7]).range([840,562]);
const defs=svg.append("defs").append("linearGradient").attr("id","v").attr("x1",0).attr("x2",0).attr("y1",1).attr("y2",0);
d3.range(0,1.01,.1).forEach(t=>defs.append("stop").attr("offset",t).attr("stop-color",d3.interpolateViridis(t)));
svg.append("rect").attr("x",1428).attr("y",562).attr("width",55).attr("height",278).attr("fill","url(#v)");
[1,2,3,4].forEach(v=>{const y=cb(v);[[1428,1439],[1472,1483]].forEach(([a,b])=>svg.append("line").attr("x1",a).attr("x2",b).attr("y1",y).attr("y2",y).attr("stroke","#fff").attr("stroke-width",1.2));
 svg.append("text").attr("x",1501).attr("y",y).attr("dy",".36em").attr("font-size",28).attr("fill","#222").text(v);});
</script></body></html>
